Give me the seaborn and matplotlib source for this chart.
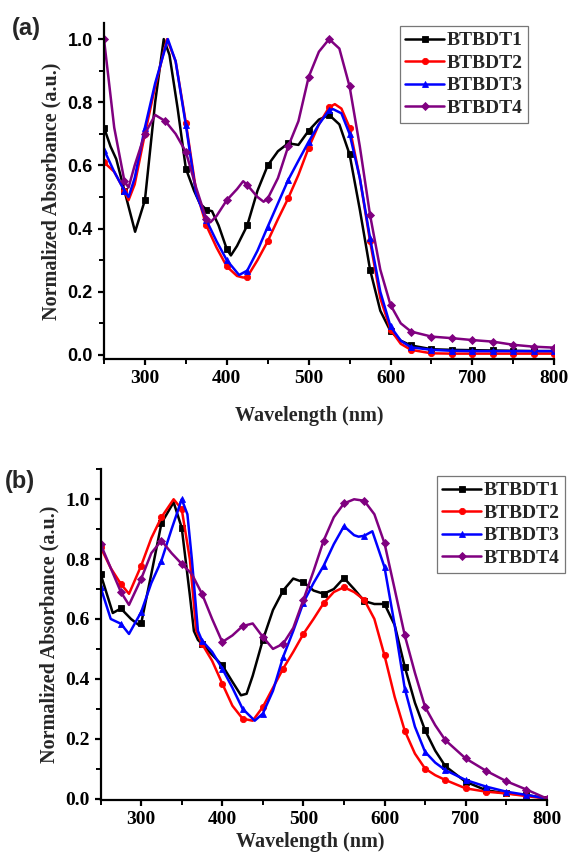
import numpy as np
import pandas as pd
import matplotlib
matplotlib.use("Agg")
import matplotlib.pyplot as plt
import seaborn as sns
from matplotlib.ticker import MultipleLocator

names = ["BTBDT1", "BTBDT2", "BTBDT3", "BTBDT4"]
colors = ["#000000", "#FF0000", "#0000FF", "#800080"]
markers = ["s", "o", "^", "D"]
msizes = [4.2, 4.5, 5.0, 4.0]

# ---------------- panel (a) ----------------
a1_wl = [250, 258, 265, 275, 288, 300, 312.5, 323, 330, 340, 350, 360, 367, 375, 382, 390, 400, 405,
         412.5, 425, 437.5, 450, 462.5, 475, 487.5, 500, 512.5, 525, 537.5, 550, 562.5, 575, 587.5,
         600, 612.5, 625, 650, 675, 700, 725, 750, 775, 800]
a1_ab = [0.72, 0.66, 0.62, 0.52, 0.39, 0.49, 0.80, 1.00, 0.95, 0.78, 0.59, 0.52, 0.48, 0.46, 0.455,
         0.41, 0.335, 0.315, 0.345, 0.41, 0.52, 0.60, 0.645, 0.67, 0.665, 0.71, 0.745, 0.76, 0.73,
         0.635, 0.46, 0.27, 0.14, 0.075, 0.045, 0.03, 0.018, 0.016, 0.015, 0.014, 0.013, 0.012, 0.012]

a2_wl = [250, 262.5, 275, 280, 287.5, 300, 312.5, 327, 337.5, 350, 362.5, 375, 387.5, 400, 412.5,
         420, 425, 437.5, 450, 462.5, 475, 487.5, 500, 512.5, 525, 532, 540, 550, 562.5, 575, 587.5,
         600, 612.5, 625, 650, 675, 700, 725, 750, 775, 800]
a2_ab = [0.61, 0.58, 0.52, 0.49, 0.54, 0.70, 0.85, 1.00, 0.93, 0.735, 0.52, 0.41, 0.34, 0.28, 0.25,
         0.245, 0.247, 0.30, 0.36, 0.43, 0.496, 0.57, 0.656, 0.73, 0.784, 0.794, 0.78, 0.72, 0.56,
         0.36, 0.18, 0.08, 0.035, 0.016, 0.005, 0.004, 0.004, 0.004, 0.004, 0.004, 0.004]

a3_wl = [250, 262.5, 275, 280, 287.5, 300, 312.5, 328, 337.5, 350, 362.5, 375, 387.5, 400, 415,
         425, 437.5, 450, 462.5, 475, 487.5, 500, 512.5, 525, 530, 540, 550, 562.5, 575, 587.5,
         600, 612.5, 625, 650, 675, 700, 725, 750, 775, 800]
a3_ab = [0.65, 0.58, 0.52, 0.50, 0.56, 0.72, 0.86, 1.00, 0.93, 0.728, 0.51, 0.427, 0.36, 0.30,
         0.253, 0.267, 0.33, 0.406, 0.48, 0.554, 0.615, 0.675, 0.73, 0.775, 0.778, 0.765, 0.70,
         0.56, 0.37, 0.20, 0.09, 0.045, 0.024, 0.016, 0.013, 0.012, 0.012, 0.012, 0.012, 0.012]

a4_wl = [250, 262.5, 275, 280, 287.5, 300, 312.5, 325, 337.5, 350, 362.5, 375, 380, 387.5, 400,
         412.5, 420, 425, 437.5, 445, 450, 462.5, 475, 487.5, 500, 512.5, 525, 537.5, 550, 562.5,
         575, 587.5, 600, 612.5, 625, 650, 675, 700, 725, 750, 775, 800]
a4_ab = [1.00, 0.72, 0.55, 0.53, 0.60, 0.70, 0.76, 0.74, 0.70, 0.643, 0.53, 0.43, 0.42, 0.44, 0.49,
         0.525, 0.55, 0.538, 0.50, 0.485, 0.495, 0.56, 0.66, 0.74, 0.88, 0.96, 1.00, 0.97, 0.85,
         0.66, 0.443, 0.27, 0.158, 0.10, 0.074, 0.058, 0.053, 0.047, 0.042, 0.032, 0.026, 0.023]

# ---------------- panel (b) ----------------
b1_wl = [250, 265, 275, 287.5, 297, 300, 312.5, 325, 340, 350, 360, 365, 370, 375, 387.5, 400,
         412.5, 423, 430, 437.5, 450, 462.5, 475, 487.5, 500, 512.5, 525, 537.5, 550, 562.5, 575,
         587.5, 600, 612.5, 625, 637.5, 650, 662.5, 675, 700, 725, 750, 775, 800]
b1_ab = [0.75, 0.62, 0.635, 0.60, 0.58, 0.585, 0.75, 0.92, 0.99, 0.905, 0.68, 0.56, 0.53, 0.517,
         0.48, 0.445, 0.39, 0.345, 0.35, 0.41, 0.53, 0.63, 0.695, 0.735, 0.723, 0.695, 0.684, 0.70,
         0.737, 0.70, 0.66, 0.65, 0.65, 0.58, 0.44, 0.32, 0.228, 0.16, 0.108, 0.056, 0.028, 0.017,
         0.012, 0.0]

b2_wl = [250, 262.5, 275, 285, 300, 312.5, 325, 340, 350, 360, 368, 375, 387.5, 400, 412.5, 425,
         437.5, 450, 462.5, 475, 487.5, 500, 512.5, 525, 537.5, 550, 562.5, 575, 587.5, 600, 612.5,
         625, 637.5, 650, 662.5, 675, 700, 725, 750, 775, 800]
b2_ab = [0.84, 0.77, 0.717, 0.684, 0.778, 0.87, 0.94, 1.00, 0.967, 0.80, 0.56, 0.517, 0.46, 0.384,
         0.31, 0.267, 0.26, 0.306, 0.37, 0.434, 0.49, 0.55, 0.60, 0.653, 0.69, 0.706, 0.69, 0.664,
         0.60, 0.478, 0.34, 0.226, 0.15, 0.10, 0.078, 0.062, 0.034, 0.023, 0.017, 0.008, 0.0]

b3_wl = [250, 262.5, 275, 285, 300, 312.5, 325, 337.5, 350, 357, 362.5, 370, 375, 387.5, 400,
         412.5, 425, 440, 450, 462.5, 475, 487.5, 500, 512.5, 525, 537.5, 550, 562.5, 568, 575,
         585, 600, 612.5, 625, 637.5, 650, 662.5, 675, 700, 725, 750, 775, 800]
b3_ab = [0.706, 0.60, 0.584, 0.55, 0.623, 0.72, 0.795, 0.90, 1.00, 0.95, 0.80, 0.56, 0.528, 0.49,
         0.434, 0.37, 0.30, 0.26, 0.284, 0.36, 0.473, 0.56, 0.655, 0.72, 0.778, 0.85, 0.91, 0.88,
         0.875, 0.878, 0.893, 0.773, 0.58, 0.367, 0.24, 0.156, 0.12, 0.095, 0.062, 0.04, 0.023,
         0.012, 0.0]

b4_wl = [250, 262.5, 275, 285, 300, 312.5, 325, 337.5, 350, 362.5, 375, 387.5, 400, 412.5, 425,
         437.5, 450, 462.5, 475, 487.5, 500, 512.5, 525, 537.5, 550, 562.5, 575, 587.5, 600, 612.5,
         625, 637.5, 650, 662.5, 675, 700, 725, 750, 775, 800]
b4_ab = [0.85, 0.77, 0.69, 0.647, 0.734, 0.82, 0.862, 0.82, 0.784, 0.75, 0.684, 0.60, 0.523, 0.545,
         0.576, 0.585, 0.54, 0.50, 0.517, 0.57, 0.664, 0.76, 0.862, 0.94, 0.986, 1.00, 0.995, 0.95,
         0.853, 0.70, 0.545, 0.42, 0.306, 0.245, 0.195, 0.134, 0.093, 0.058, 0.03, 0.0]

x_ticks = [300, 400, 500, 600, 700, 800]
y_ticks = [0.0, 0.2, 0.4, 0.6, 0.8, 1.0]

panel_a = [(a1_wl, a1_ab), (a2_wl, a2_ab), (a3_wl, a3_ab), (a4_wl, a4_ab)]
panel_b = [(b1_wl, b1_ab), (b2_wl, b2_ab), (b3_wl, b3_ab), (b4_wl, b4_ab)]

sns.set_style("ticks")
plt.rcParams["font.family"] = ["Liberation Serif", "DejaVu Serif"]
plt.rcParams["font.weight"] = "bold"
plt.rcParams["axes.labelweight"] = "bold"

fig = plt.figure(figsize=(5.71, 8.56), dpi=100)
axA = fig.add_axes([0.1821, 0.5806, 0.7886, 0.3929])
axB = fig.add_axes([0.1762, 0.0654, 0.7813, 0.3863])


def draw(ax, series, ylim, leg_anchor, ysans):
    for (wl, ab), name, c, m, ms in zip(series, names, colors, markers, msizes):
        df = pd.DataFrame({"wl": wl, "ab": ab})
        idx = [i for i, w in enumerate(wl) if float(w) % 25 == 0]
        sns.lineplot(data=df, x="wl", y="ab", ax=ax, color=c, lw=1.8, marker=m,
                     markersize=ms, markeredgewidth=0.6, markeredgecolor=c,
                     markevery=idx, sort=False, estimator=None, label=name)
    ax.set_xlim(250, 800)
    ax.set_ylim(*ylim)
    ax.set_xticks(x_ticks)
    ax.set_yticks(y_ticks)
    ax.xaxis.set_minor_locator(MultipleLocator(50))
    ax.yaxis.set_minor_locator(MultipleLocator(0.1))
    for s in ["top", "right"]:
        ax.spines[s].set_visible(False)
    for s in ["left", "bottom"]:
        ax.spines[s].set_linewidth(1.6)
        ax.spines[s].set_color("black")
    ax.tick_params(which="major", direction="out", length=4.5, width=1.6, pad=3.5,
                   labelsize=14, colors="black")
    ax.tick_params(which="minor", direction="out", length=3.5, width=1.4, colors="black")
    ax.set_xticklabels([str(t) for t in x_ticks], fontweight="bold")
    if ysans:
        ax.set_yticklabels([f"{t:.1f}" for t in y_ticks], fontweight="bold",
                           family=["Liberation Sans", "DejaVu Sans"], fontsize=13)
    else:
        ax.set_yticklabels([f"{t:.1f}" for t in y_ticks], fontweight="bold")
    ax.set_xlabel("Wavelength (nm)", fontsize=14.5, fontweight="bold")
    ax.set_ylabel("Normalized Absorbance (a.u.)", fontsize=14.5, fontweight="bold", labelpad=4)
    leg = ax.legend(loc="upper right", bbox_to_anchor=leg_anchor, bbox_transform=fig.transFigure,
                    borderaxespad=0, frameon=True, fancybox=False, fontsize=14,
                    handlelength=2.0, handletextpad=0.1, labelspacing=0.25, borderpad=0.3)
    leg.get_frame().set_edgecolor("#555555")
    leg.get_frame().set_linewidth(0.9)
    for t in leg.get_texts():
        t.set_fontweight("bold")
    ax.set_facecolor("white")


draw(axA, panel_a, (-0.013, 1.052), (528 / 571, 1 - 26 / 856), True)
draw(axB, panel_b, (-0.005, 1.1), (565 / 571, 1 - 476 / 856), False)

axA.xaxis.set_label_coords(0.455, -0.14)
axB.xaxis.set_label_coords(0.47, -0.097)

fig.text(12 / 571, 1 - 35 / 856, "(a)", fontsize=17, fontweight="bold",
         family=["Liberation Sans", "DejaVu Sans"])
fig.text(5 / 571, 1 - 488 / 856, "(b)", fontsize=17, fontweight="bold",
         family=["Liberation Sans", "DejaVu Sans"])

fig.savefig("out.png", dpi=100, facecolor="white")
